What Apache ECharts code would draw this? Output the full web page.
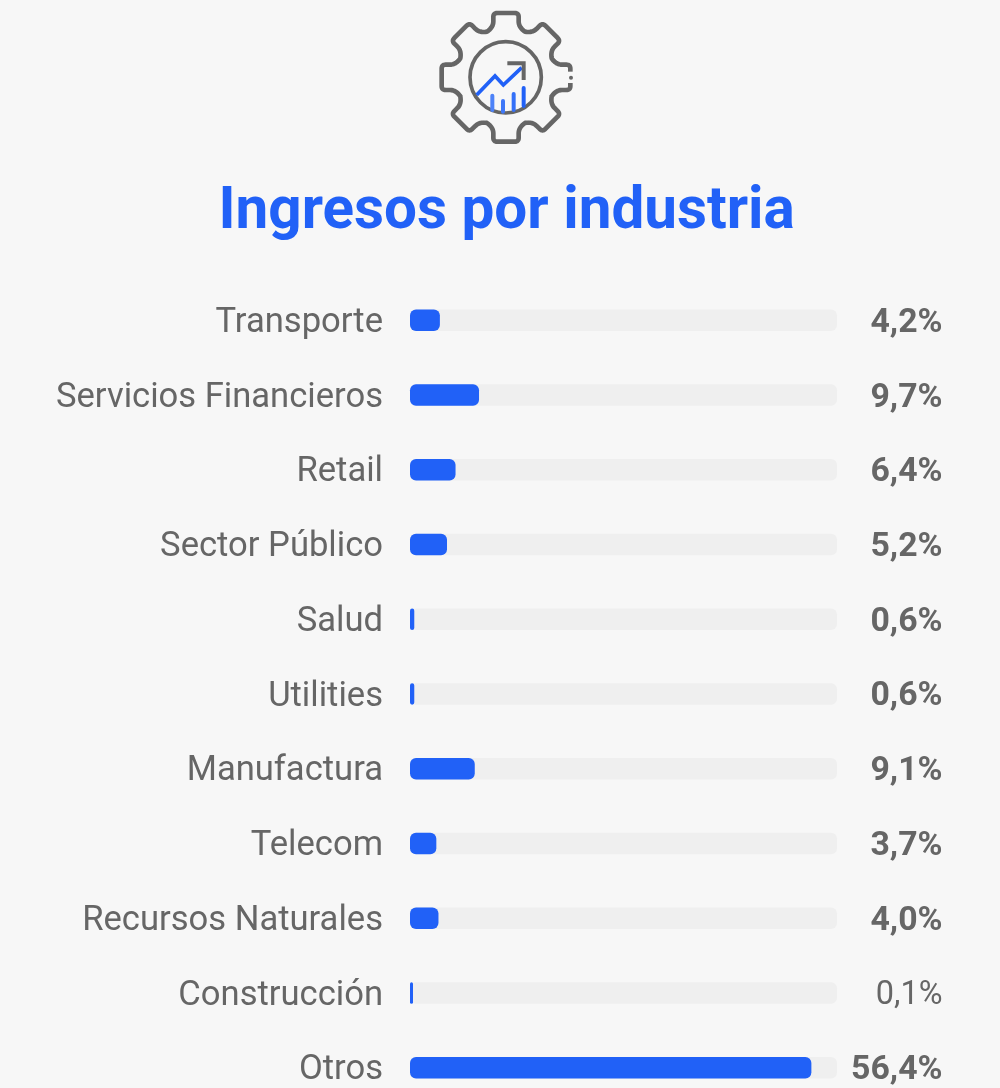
<!DOCTYPE html>
<html><head><meta charset="utf-8">
<style>html,body{margin:0;padding:0;background:#f7f7f7}#c{width:1000px;height:1088px}</style>
<script src="https://cdn.jsdelivr.net/npm/echarts@6/dist/echarts.min.js"></script>
</head><body><div id="c"></div>
<script>
const categories = ['Transporte','Servicios Financieros','Retail','Sector Público','Salud','Utilities','Manufactura','Telecom','Recursos Naturales','Construcción','Otros'];
const values = [4.2,9.7,6.4,5.2,0.6,0.6,9.1,3.7,4.0,0.1,56.4];
const valueLabels = ['4,2%','9,7%','6,4%','5,2%','0,6%','0,6%','9,1%','3,7%','4,0%','0,1%','56,4%'];
const lightLabels = ['0,1%'];
const titleText = 'Ingresos por industria';

const GRAY = '#666666', BLUE = '#2161f7', FONT = 'Roboto', BG = '#f7f7f7';

// Gear icon outline (decoration), flattened to polygon points in a 3x local space
function gearPoints(){
  const tooth = [[-57,-137],[-38,-150,-38,-168],[-38,-181],[-38,-193,-26,-193],[26,-193],[38,-193,38,-181],[38,-168],[38,-150,57,-137]];
  const local = [];
  let px = 0, py = 0;
  tooth.forEach(t=>{
    if(t.length===2){ local.push([t[0],t[1]]); px=t[0]; py=t[1]; }
    else {
      for(let k=1;k<=8;k++){
        const u=k/8, v=1-u;
        local.push([v*v*px+2*u*v*t[0]+u*u*t[2], v*v*py+2*u*v*t[1]+u*u*t[3]]);
      }
      px=t[2]; py=t[3];
    }
  });
  const pts = [];
  for(let i=0;i<8;i++){
    const a=i*Math.PI/4, c=Math.cos(a), s=Math.sin(a);
    local.forEach(p=>pts.push([p[0]*c-p[1]*s, p[0]*s+p[1]*c]));
  }
  return pts;
}
const icon = {
  type:'group', x:420, y:0, scaleX:1/3, scaleY:1/3, silent:true,
  children:[
    {type:'polygon', x:258, y:232, shape:{points:gearPoints()}, style:{fill:'none',stroke:GRAY,lineWidth:14,lineJoin:'round'}},
    {type:'rect', shape:{x:440,y:215,width:30,height:34}, style:{fill:BG}},
    {type:'circle', shape:{cx:453,cy:233,r:6}, style:{fill:GRAY}},
    {type:'circle', shape:{cx:257,cy:232,r:107}, style:{fill:'none',stroke:GRAY,lineWidth:11}},
    {type:'polyline', shape:{points:[[170,285],[225,228],[250,255],[305,203]]}, style:{fill:'none',stroke:BLUE,lineWidth:11}},
    {type:'polyline', shape:{points:[[262,190],[311,190],[311,240]]}, style:{fill:'none',stroke:GRAY,lineWidth:12}},
    {type:'line', shape:{x1:217,y1:287,x2:217,y2:330}, style:{stroke:'#4d82f8',lineWidth:12,lineCap:'round'}},
    {type:'line', shape:{x1:249,y1:303,x2:249,y2:335}, style:{stroke:'#3f78f8',lineWidth:12,lineCap:'round'}},
    {type:'line', shape:{x1:281,y1:282,x2:281,y2:330}, style:{stroke:'#3470f8',lineWidth:12,lineCap:'round'}},
    {type:'line', shape:{x1:311,y1:264,x2:311,y2:318}, style:{stroke:BLUE,lineWidth:12,lineCap:'round'}}
  ]
};

const chart = echarts.init(document.getElementById('c'), null, {renderer:'canvas', width:1000, height:1088});
chart.setOption({
  animation:false,
  backgroundColor:BG,
  title:{text:titleText, left:218.5, top:178, padding:0,
    textStyle:{fontFamily:FONT, fontWeight:700, fontSize:58.4, color:BLUE, lineHeight:70}},
  graphic:[icon],
  grid:{left:410, width:427, top:283, height:822, containLabel:false, outerBoundsMode:'none'},
  xAxis:{type:'value', min:0, max:60, show:false},
  yAxis:[
    {type:'category', inverse:true, data:categories, position:'left',
      axisLine:{show:false}, axisTick:{show:false}, splitLine:{show:false},
      axisLabel:{margin:27, interval:0, padding:[6,0,0,0],
        formatter:v=>'{a|'+v+'}',
        rich:{a:{color:GRAY, fontFamily:FONT, fontSize:34.6, fontWeight:400}}}},
    {type:'category', inverse:true, data:valueLabels, position:'right',
      axisLine:{show:false}, axisTick:{show:false}, splitLine:{show:false},
      axisLabel:{margin:105.5, align:'right', interval:0, padding:[6,0,0,0],
        formatter:v=>lightLabels.includes(v)?'{n|'+v+'}':'{b|'+v+'}',
        rich:{
          b:{color:GRAY, fontFamily:FONT, fontSize:33.8, fontWeight:700},
          n:{color:GRAY, fontFamily:FONT, fontSize:32.5, fontWeight:400}
        }}}
  ],
  series:[{
    type:'bar', yAxisIndex:0, data:values, barWidth:21.5, barMinHeight:3,
    showBackground:true,
    backgroundStyle:{color:'#efefef', borderRadius:6},
    itemStyle:{color:BLUE, borderRadius:6},
    emphasis:{disabled:true}
  }]
});
</script></body></html>
